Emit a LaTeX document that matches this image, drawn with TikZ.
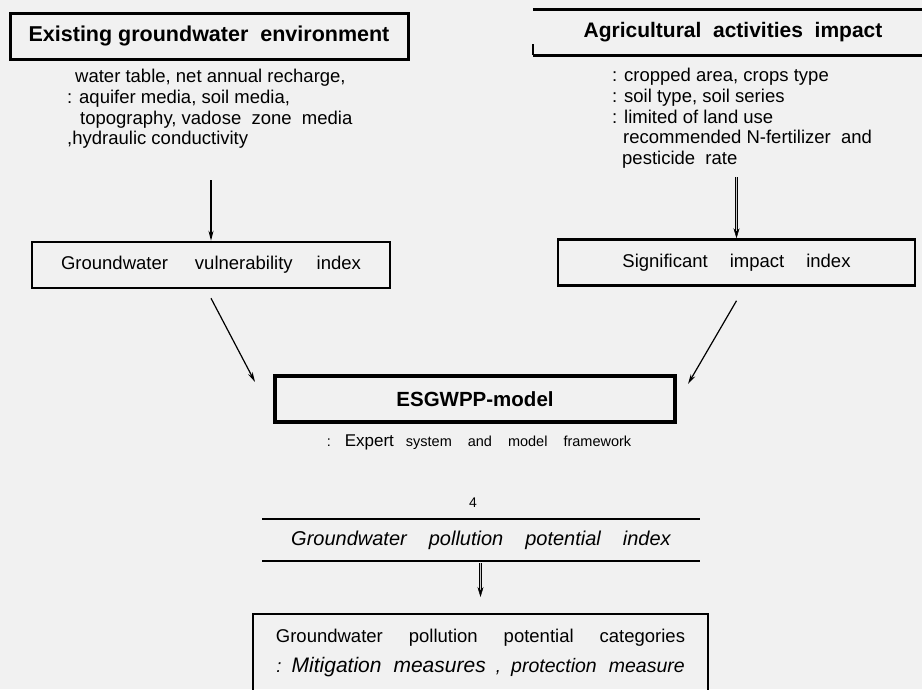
\documentclass[tikz,border=0pt]{standalone}
\usepackage{fontspec}
\setmainfont{Liberation Sans}
\usetikzlibrary{positioning, arrows.meta}

\begin{document}
\begin{tikzpicture}[x=1pt, y=-1pt,
    headbox/.style={draw, line width=3pt, minimum height=46pt, font=\fontsize{21}{24}\selectfont\bfseries},
    idxbox/.style={draw, line width=2.5pt, minimum height=46pt, font=\fontsize{18.5}{21}\selectfont},
    notes/.style={align=left, inner sep=0pt, font=\fontsize{18.5}{20.7}\selectfont},
    flow/.style={-{Stealth[length=10pt,width=5pt]}, line width=1.2pt},
    dflow/.style={-{Stealth[length=10pt,width=6pt]}, double=gray!40, double distance=1.6pt, thin}]

    % paper
    \fill[gray!11] (0,0) rectangle (922,689);
    \useasboundingbox (0,0) rectangle (922,689);

    % Left column: groundwater environment
    \node[headbox, minimum width=398pt, font=\fontsize{21.5}{24}\selectfont\bfseries] (env) at (209,36)
        {Existing groundwater\ \ environment};
    \node[notes, anchor=north west] (envlist) at (67,69)
        {\hspace*{8pt}water table, net annual recharge,\\
         : aquifer media, soil media,\\
         \hspace*{13pt}topography, vadose\ \ zone\ \ media\\
         ,hydraulic conductivity};
    \node[idxbox, minimum width=358pt] (gvi) at (211,265)
        {Groundwater\hspace{27pt}vulnerability\hspace{24pt}index};

    % Right column: agricultural impact
    \node[minimum width=400pt, minimum height=45pt, font=\fontsize{21}{24}\selectfont\bfseries] (agri) at (733,32.5)
        {Agricultural\ \ activities\ \ impact};
    \draw[line width=3pt] (agri.north west) -- (agri.north east);
    \draw[line width=3pt] (agri.south west) -- (agri.south east);
    \draw[line width=1.5pt] (agri.south west) -- ++(0,-11);
    \node[notes, anchor=north west] (agrilist) at (612,68)
        {: cropped area, crops type\\
         : soil type, soil series\\
         : limited of land use\\
         \hspace*{11pt}recommended N-fertilizer\ \ and\\
         \hspace*{10pt}pesticide\ \ rate};
    \node[idxbox, minimum width=357pt] (sii) at (736.5,262.5)
        {Significant\hspace{22pt}impact\hspace{22pt}index};

    % Model
    \node[headbox, line width=4pt, minimum width=400pt, font=\fontsize{20.5}{24}\selectfont\bfseries] (esg) at (475,399) {ESGWPP-model};
    \node[font=\fontsize{14.5}{17}\selectfont] (esgnote) at (479,442)
        {:\hspace{14pt}{\fontsize{17}{17}\selectfont Expert}\hspace{12pt}system\hspace{16pt}and\hspace{16pt}model\hspace{16pt}framework};

    % Output
    \node[font=\fontsize{14}{16}\selectfont] (four) at (473,503) {4};
    \node[minimum width=437pt, minimum height=42pt, font=\fontsize{20}{23}\selectfont\itshape] (gppi) at (481,540)
        {Groundwater\hspace{22pt}pollution\hspace{22pt}potential\hspace{22pt}index};
    \draw[line width=2.5pt] (gppi.north west) -- (gppi.north east);
    \draw[line width=2.5pt] (gppi.south west) -- (gppi.south east);

    \node[align=center, minimum width=455pt, anchor=north, inner sep=0pt, font=\fontsize{18.5}{30}\selectfont] (cat) at (480.5,629)
        {Groundwater\hspace{26pt}pollution\hspace{26pt}potential\hspace{26pt}categories\\
         \itshape :\ \ {\fontsize{21}{30}\selectfont Mitigation\hspace{12pt}measures}\hspace{10pt},\ \ {\fontsize{19.5}{30}\selectfont protection\hspace{12pt}measure}};
    \draw[line width=2.5pt] ([yshift=-80pt]cat.north west) -- ([yshift=15pt]cat.north west)
        -- ([yshift=15pt]cat.north east) -- ([yshift=-80pt]cat.north east);

    % Arrows
    \coordinate (envend) at (211,180);
    \coordinate (agriend) at (736.5,177);
    \draw[flow] (envend) -- (gvi.north);
    \draw[dflow] (agriend) -- (sii.north);
    \draw[flow] ([yshift=-9pt]gvi.south) -- ([xshift=-18pt,yshift=-8pt]esg.north west);
    \draw[flow] ([yshift=-14pt]sii.south) -- ([xshift=11pt,yshift=-10pt]esg.north east);
    \draw[dflow] ([yshift=-2pt]gppi.south -| cat.north) -- ([yshift=32pt]cat.north);
\end{tikzpicture}
\end{document}
